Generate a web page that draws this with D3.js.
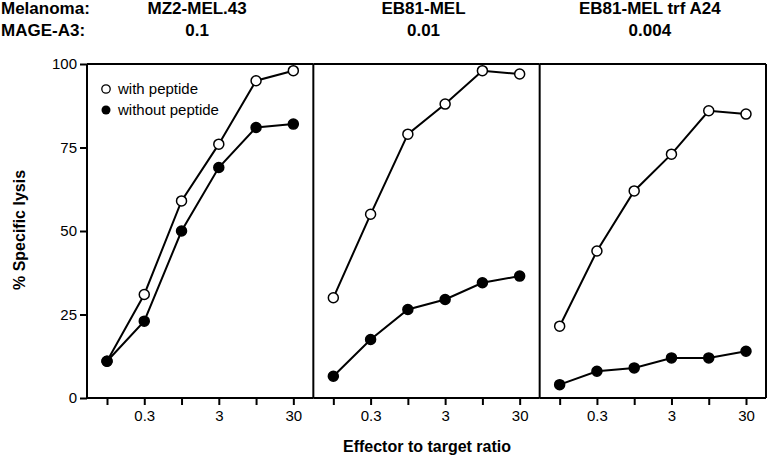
<!DOCTYPE html>
<html><head><meta charset="utf-8">
<script src="https://cdn.jsdelivr.net/npm/d3@7"></script>
<style>
body{margin:0;background:#fff;}
svg{display:block;font-family:"Liberation Sans",Arial,Helvetica,sans-serif;}
</style></head>
<body><svg id="chart" width="767" height="459"></svg>
<script>
const ratios = ["0.1","0.3","1","3","10","30"];
const ratioLabels = ["0.3","3","30"];
const panelNames = ["MZ2-MEL.43","EB81-MEL","EB81-MEL trf A24"];
const mageValues = ["0.1","0.01","0.004"];
const withPeptide = [
  [11, 31, 59, 76, 95, 98],
  [30, 55, 79, 88, 98, 97],
  [21.5, 44, 62, 73, 86, 85]
];
const withoutPeptide = [
  [11, 23, 50, 69, 81, 82],
  [6.5, 17.5, 26.5, 29.5, 34.5, 36.5],
  [4, 8, 9, 12, 12, 14]
];
const yTicks = [0, 25, 50, 75, 100];

(function () {
const svg = d3.select("#chart");
const pLeft = 87, pRight = 766, pTop = 64, pBottom = 398;
const pw = (pRight - pLeft) / 3;
const y = d3.scaleLinear().domain([0, 100]).range([pBottom, pTop]);

// header
svg.append("text").attr("x", 1).attr("y", 14).attr("font-size", 17).attr("font-weight", "bold").text("Melanoma:");
svg.append("text").attr("x", 1).attr("y", 36).attr("font-size", 17).attr("font-weight", "bold").text("MAGE-A3:");

// y axis
const yAxis = svg.append("g").attr("transform", `translate(${pLeft},0)`)
  .call(d3.axisLeft(y).tickValues(yTicks).tickSize(7).tickPadding(3).tickFormat(d3.format("d")));
yAxis.select(".domain").remove();
yAxis.selectAll(".tick line").attr("stroke", "#000").attr("stroke-width", 2);
yAxis.selectAll(".tick text").attr("font-size", 15).attr("fill", "#000").attr("font-family", "Liberation Sans, Arial, sans-serif");

svg.append("text").attr("transform", `translate(25,230) rotate(-90)`).attr("text-anchor", "middle")
  .attr("font-size", 16).attr("font-weight", "bold").text("% Specific lysis");

const line = d3.line();

for (let p = 0; p < 3; p++) {
  const x0 = pLeft + p * pw, x1 = x0 + pw;
  const x = d3.scalePoint().domain(ratios).range([x0 + 20, x1 - 20]);
  const cx = (x0 + x1) / 2 - 3;
  svg.append("text").attr("x", cx).attr("y", 14).attr("text-anchor", "middle").attr("font-size", 17).attr("font-weight", "bold").text(panelNames[p]);
  svg.append("text").attr("x", cx).attr("y", 36).attr("text-anchor", "middle").attr("font-size", 17).attr("font-weight", "bold").text(mageValues[p]);

  const xAxis = svg.append("g").attr("transform", `translate(0,${pBottom})`)
    .call(d3.axisBottom(x).tickSize(7).tickPadding(5).tickFormat(d => ratioLabels.includes(d) ? d : ""));
  xAxis.select(".domain").remove();
  xAxis.selectAll(".tick line").attr("stroke", "#000").attr("stroke-width", 2);
  xAxis.selectAll(".tick text").attr("font-size", 15).attr("fill", "#000").attr("font-family", "Liberation Sans, Arial, sans-serif");

  // frame
  svg.append("line").attr("x1", x0).attr("x2", x1).attr("y1", pTop).attr("y2", pTop).attr("stroke", "#000").attr("stroke-width", 2);
  svg.append("line").attr("x1", x0).attr("x2", x1).attr("y1", pBottom).attr("y2", pBottom).attr("stroke", "#000").attr("stroke-width", 2);
  svg.append("line").attr("x1", x0).attr("x2", x0).attr("y1", pTop).attr("y2", pBottom).attr("stroke", "#000").attr("stroke-width", 2);
  if (p === 2) svg.append("line").attr("x1", x1).attr("x2", x1).attr("y1", pTop).attr("y2", pBottom).attr("stroke", "#000").attr("stroke-width", 2);

  const series = [
    {vals: withPeptide[p], fill: "#fff"},
    {vals: withoutPeptide[p], fill: "#000"}
  ];
  series.forEach(s => {
    const pts = s.vals.map((v, i) => [x(ratios[i]), y(v)]);
    svg.append("path").attr("d", line(pts)).attr("fill", "none").attr("stroke", "#000").attr("stroke-width", 2);
  });
  series.forEach(s => {
    svg.append("g").selectAll("circle").data(s.vals).join("circle")
      .attr("cx", (v, i) => x(ratios[i])).attr("cy", v => y(v)).attr("r", 5)
      .attr("fill", s.fill).attr("stroke", "#000").attr("stroke-width", 1.5);
  });
}

// legend
const lg = svg.append("g");
lg.append("circle").attr("cx", 106).attr("cy", 89).attr("r", 4.2).attr("fill", "#fff").attr("stroke", "#000").attr("stroke-width", 1.3);
lg.append("text").attr("x", 118).attr("y", 94).attr("font-size", 15).text("with peptide");
lg.append("circle").attr("cx", 106).attr("cy", 110).attr("r", 4.5).attr("fill", "#000");
lg.append("text").attr("x", 118).attr("y", 115).attr("font-size", 15).text("without peptide");

// x label
svg.append("text").attr("x", 427).attr("y", 452).attr("text-anchor", "middle").attr("font-size", 16).attr("font-weight", "bold").text("Effector to target ratio");
})();
</script></body></html>
